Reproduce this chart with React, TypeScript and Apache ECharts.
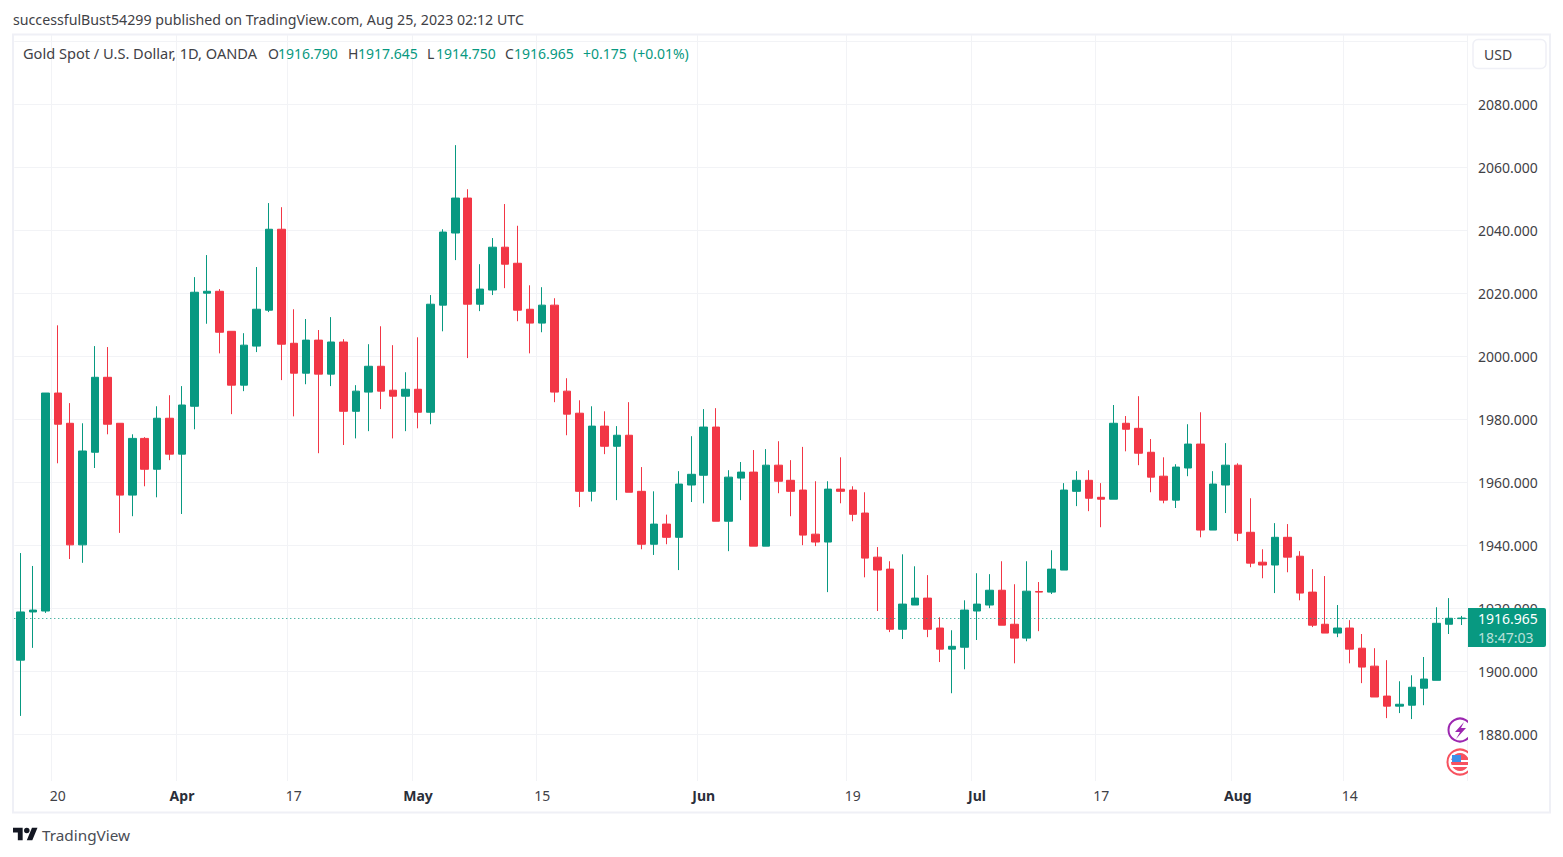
import React, { useEffect, useRef } from "react";
import * as echarts from "echarts";

const categories = [
  "Mar 15","Mar 16","Mar 17","Mar 20","Mar 21","Mar 22","Mar 23","Mar 24","Mar 27","Mar 28","Mar 29","Mar 30","Mar 31",
  "Apr 3","Apr 4","Apr 5","Apr 6","Apr 10","Apr 11","Apr 12","Apr 13","Apr 14","Apr 17","Apr 18","Apr 19","Apr 20","Apr 21","Apr 24","Apr 25","Apr 26","Apr 27","Apr 28",
  "May 1","May 2","May 3","May 4","May 5","May 8","May 9","May 10","May 11","May 12","May 15","May 16","May 17","May 18","May 19","May 22","May 23","May 24","May 25","May 26","May 29","May 30","May 31",
  "Jun 1","Jun 2","Jun 5","Jun 6","Jun 7","Jun 8","Jun 9","Jun 12","Jun 13","Jun 14","Jun 15","Jun 16","Jun 19","Jun 20","Jun 21","Jun 22","Jun 23","Jun 26","Jun 27","Jun 28","Jun 29","Jun 30",
  "Jul 3","Jul 4","Jul 5","Jul 6","Jul 7","Jul 10","Jul 11","Jul 12","Jul 13","Jul 14","Jul 17","Jul 18","Jul 19","Jul 20","Jul 21","Jul 24","Jul 25","Jul 26","Jul 27","Jul 28","Jul 31",
  "Aug 1","Aug 2","Aug 3","Aug 4","Aug 7","Aug 8","Aug 9","Aug 10","Aug 11","Aug 14","Aug 15","Aug 16","Aug 17","Aug 18","Aug 21","Aug 22","Aug 23","Aug 24","Aug 25",
];

const opens = [
  1903.6,1918.9,1919.2,1988.4,1978.8,1940.2,1969.6,1993.4,1978.8,1956,
  1974,1964.2,1980.4,1969,1984.2,2020.1,2020.7,2008,1990.9,2003.3,
  2014.7,2040.4,2004.2,1994.7,2005.2,1994.4,2004.6,1982.6,1988.7,1996.9,
  1989.3,1987.4,1989.6,1982.3,2016.3,2039.2,2050.3,2016.6,2021.1,2034.7,
  2029.6,2015,2010.6,2016.3,1989,1982,1957.2,1977.9,1971.5,1975,
  1957.2,1940.4,1946.8,1942.6,1959.2,1962.3,1977.6,1947.7,1961.4,1963.3,
  1939.8,1965.5,1960.7,1957.6,1943.6,1941.1,1957.9,1957.6,1950.3,1936.3,
  1932.5,1913.4,1921.1,1923.3,1913.8,1907.1,1907.7,1919.2,1921.1,1925.8,
  1915,1910.6,1925.4,1925.2,1932.2,1957.2,1960.7,1955.3,1954.7,1978.8,
  1977.2,1969.6,1962,1954.4,1964.6,1972.2,1944.9,1959.2,1965.5,1944.2,
  1934.7,1933.8,1942.6,1936.6,1925.2,1915,1912.2,1913.8,1907.4,1901.7,
  1892.2,1889,1889.3,1894.7,1897.2,1915,1916.79,
];
const closes = [
  1918.9,1919.5,1988.4,1978.5,1940.2,1970,1993.4,1978.5,1956,1974,
  1964.2,1980.4,1969,1984.6,2020.4,2020.7,2007.7,1990.9,2003.6,2015,
  2040.4,2003.9,1994.7,2005.2,1994.4,2004.6,1982.6,1989,1996.9,1989,
  1987.4,1989.6,1982.3,2016.6,2039.5,2050.3,2016.6,2021.4,2034.7,2029.3,
  2014.7,2010.6,2016.3,1988.7,1981.7,1957.2,1977.9,1971.5,1975,1956.9,
  1940.4,1946.8,1942.6,1959.5,1962.6,1977.6,1947.7,1961.7,1963.3,1939.8,
  1965.5,1960.4,1957.2,1943.3,1941.1,1957.9,1957.2,1949.9,1936,1932.2,
  1913.4,1921.4,1923.3,1913.4,1907.1,1908,1919.5,1921.4,1925.8,1914.7,
  1910.6,1925.5,1925.2,1932.5,1957.6,1960.7,1955,1954.7,1978.8,1976.9,
  1969.3,1961.7,1954.4,1964.9,1972.2,1944.9,1959.5,1965.5,1943.9,1934.4,
  1933.8,1942.6,1936.3,1924.9,1914.7,1912.2,1913.8,1907.1,1901.4,1891.9,
  1889,1889.6,1895,1897.6,1915.3,1916.9,1916.965,
];
const lows = [
  1885.9,1907.5,1918.6,1966.1,1935.7,1934.5,1964.6,1975.3,1944,1949.3,
  1958.8,1955.3,1967.1,1950,1976.9,2010.4,2001,1981.7,1989,2001.4,
  2014.1,1992.5,1981,1991.2,1969.3,1990.6,1971.9,1974,1976.3,1983.3,
  1974,1976.3,1977.2,1978.5,2008,2030.6,1999.5,2014.4,2019.5,2021.7,
  2011.2,2001,2007.7,1985.5,1975,1952.2,1954,1969,1954.4,1956.9,
  1938.8,1937,1940.4,1932.2,1953.8,1953.4,1947.7,1938.2,1954.4,1939.8,
  1939.8,1956.6,1949.3,1940.1,1939.8,1925.2,1953.4,1947.7,1929.9,1919.2,
  1912.5,1910.3,1921.1,1910.9,1903,1893.1,1900.7,1910,1920.1,1914.7,
  1902.6,1909.6,1912.8,1924.6,1932.2,1952.5,1950.9,1945.8,1954.7,1969.9,
  1965.5,1956.9,1953.4,1951.9,1962,1942.6,1944.9,1950.3,1941.4,1933.1,
  1929.6,1924.9,1931.5,1922.6,1914.1,1912.2,1910.9,1902.6,1896.3,1891.9,
  1885.2,1886.8,1884.9,1889.3,1897.2,1911.9,1914.75,
];
const highs = [
  1937.6,1933.5,1988.4,2009.9,1985.2,1978.8,2003.3,2003,1978.8,1975.3,
  1974.4,1984.2,1987.7,1990.6,2025.2,2032.2,2021.4,2008,2007.4,2028.4,
  2048.7,2047.4,2015,2011.9,2008.4,2012.5,2005.5,1990.9,2003.9,2009.6,
  2003.6,1995,2006.1,2019.5,2040.4,2067.1,2053.1,2029.3,2037.6,2048.4,
  2041.5,2022.6,2022,2018.5,1993.1,1986.1,1984.2,1982.6,1977.9,1985.5,
  1964.9,1957.2,1949.8,1963.6,1974.7,1983.3,1983.6,1963.9,1966.5,1970.3,
  1970.6,1973.1,1967.1,1971.3,1960.4,1960.4,1968,1958.8,1956.9,1939.5,
  1935,1937.2,1933.4,1930.6,1917.2,1913.1,1922.6,1931.2,1930.9,1935,
  1927.7,1935,1928.4,1938.5,1959.8,1963.6,1963.9,1959.8,1984.6,1981.1,
  1987.4,1973.8,1968,1965.8,1978.5,1982.3,1963.6,1972.5,1966.1,1955,
  1938.8,1947.1,1946.8,1938.2,1932.5,1930.3,1921.1,1916.3,1911.9,1907.4,
  1903.6,1896.9,1898.8,1904.6,1920.4,1923.3,1917.645,
];

const dateTickLabels: Record<string, string> = {
  "Mar 20": "20", "Apr 3": "Apr", "Apr 17": "17", "May 1": "May", "May 15": "15", "Jun 1": "Jun",
  "Jun 19": "19", "Jul 3": "Jul", "Jul 17": "17", "Aug 1": "Aug", "Aug 14": "14",
};
const monthLabels = ["Apr", "May", "Jun", "Jul", "Aug"];
const priceLabels = [1880, 1900, 1920, 1940, 1960, 1980, 2000, 2020, 2040, 2060, 2080];
const priceGridLines = [...priceLabels, 2100];
// last price 1916.965, nudged a hair so that the dotted line lands on a whole pixel row
const lastPriceLine = 1916.83;

const headerText = "successfulBust54299 published on TradingView.com, Aug 25, 2023 02:12 UTC";
const legendItems: [number, string, boolean][] = [
  [23, "Gold Spot / U.S. Dollar, 1D, OANDA", false],
  [268, "O", false], [278, "1916.790", true],
  [348, "H", false], [358, "1917.645", true],
  [427, "L", false], [436, "1914.750", true],
  [505, "C", false], [514, "1916.965", true],
  [583, "+0.175", true], [633, "(+0.01%)", true],
];

const UP = "#089981";
const DOWN = "#F23645";
const GRID = "#f2f3f6";
const FRAME = "#eff0f6";
const FONT = "'Noto Sans', sans-serif";

echarts.graphic.registerShape(
  "tvLogo",
  echarts.graphic.extendPath(
    "M14 22H7V11H0V4h14v18zM28 22h-8l7.5-18h8L28 22zM24 8a4 4 0 1 1-8 0a4 4 0 0 1 8 0z",
    {}
  )
);

export default function App() {
  const ref = useRef<HTMLDivElement>(null);
  useEffect(() => {
    const chart = echarts.init(ref.current!, undefined, { renderer: "svg" });
    const text = (x: number, y: number, t: string, fill: string, extra: any = {}) => ({
      type: "text", x, y, z: 101,
      style: { text: t, fill, font: `14px ${FONT}`, textVerticalAlign: "middle", ...extra },
    });
    const graphics: any[] = [
      { type: "rect", z: 0, shape: { x: 13, y: 34.5, width: 1537, height: 778 }, style: { fill: "none", stroke: FRAME, lineWidth: 2 } },
      text(13, 19, headerText, "#3f4146", { font: `14.2px ${FONT}` }),
      ...legendItems.map(([x, t, g], i) =>
        text(x, 53, t, g ? UP : "#3f4146", i === 0 ? { font: `14.6px ${FONT}` } : {})
      ),
      { type: "rect", z: 100, shape: { x: 1473, y: 39.5, width: 73, height: 29, r: 5 }, style: { fill: "#fff", stroke: FRAME, lineWidth: 1.5 } },
      text(1484, 54, "USD", "#3f4146"),
      { type: "rect", z: 100, shape: { x: 1468, y: 608, width: 78, height: 39, r: [0, 2, 2, 0] }, style: { fill: UP } },
      text(1478, 618, "1916.965", "#ffffff"),
      text(1478, 637, "18:47:03", "rgba(255,255,255,0.72)"),
      // event badges, clipped by the price scale
      { type: "circle", z: 98, shape: { cx: 1460, cy: 730, r: 11.5 }, style: { fill: "#fff", stroke: "#9c27b0", lineWidth: 2 } },
      { type: "polygon", z: 98, shape: { points: [[1464, 722], [1455, 732], [1460, 732], [1456, 739], [1466, 728], [1461, 728]] }, style: { fill: "#9c27b0" } },
      { type: "circle", z: 98, shape: { cx: 1460, cy: 762, r: 12.5 }, style: { fill: "#fff", stroke: "#f7525f", lineWidth: 2 } },
      { type: "circle", z: 98, shape: { cx: 1460, cy: 762, r: 9 }, style: { fill: "#f7525f" } },
      { type: "rect", z: 98, shape: { x: 1451, y: 760, width: 18, height: 2 }, style: { fill: "#fff" } },
      { type: "rect", z: 98, shape: { x: 1451, y: 765, width: 18, height: 2 }, style: { fill: "#fff" } },
      { type: "rect", z: 98, shape: { x: 1452, y: 755, width: 9, height: 7 }, style: { fill: "#3d8fe8" } },
      { type: "rect", z: 99, shape: { x: 1468, y: 716, width: 8, height: 62 }, style: { fill: "#fff" } },
      { type: "tvLogo", z: 101, x: 13, y: 825, scaleX: 0.69, scaleY: 0.69, style: { fill: "#131722" } },
      text(42, 835, "TradingView", "#4a4d55", { font: `15.3px ${FONT}` }),
    ];

    chart.setOption({
      animation: false,
      textStyle: { fontFamily: FONT },
      grid: { left: 14.3, top: 35, width: 1453.4, height: 746 },
      xAxis: {
        type: "category",
        data: categories,
        boundaryGap: true,
        axisLine: { show: false },
        axisTick: { show: false, alignWithLabel: true, interval: (_: number, v: string) => v in dateTickLabels },
        splitLine: { show: true, interval: (_: number, v: string) => v in dateTickLabels, lineStyle: { color: GRID, width: 1 } },
        axisLabel: {
          interval: (_: number, v: string) => v in dateTickLabels,
          margin: 7,
          fontSize: 14,
          color: "#3f4146",
          formatter: (v: string) => {
            const l = dateTickLabels[v];
            return monthLabels.includes(l) ? `{m|${l}}` : l;
          },
          rich: { m: { fontWeight: "bold", fontSize: 14, color: "#2a2e39", fontFamily: FONT } },
        },
      },
      yAxis: {
        type: "value",
        position: "right",
        min: 1865.238,
        max: 2102.063,
        axisLine: { show: false },
        axisTick: { show: false, customValues: priceGridLines },
        splitLine: { show: true, lineStyle: { color: GRID, width: 1 } },
        axisLabel: {
          customValues: priceLabels,
          margin: 10.3,
          fontSize: 14,
          color: "#3f4146",
          formatter: (v: number) => v.toFixed(3),
        },
      },
      series: [
        {
          type: "candlestick",
          barWidth: 8,
          data: opens.map((o, i) => [o, closes[i], lows[i], highs[i]]),
          itemStyle: { color: UP, color0: DOWN, borderColor: UP, borderColor0: DOWN, borderWidth: 1 },
          markLine: {
            silent: true,
            symbol: "none",
            label: { show: false },
            data: [{ yAxis: lastPriceLine }],
            lineStyle: { color: UP, type: [1, 3], width: 1 },
          },
        },
      ],
      graphic: graphics,
    });
    return () => chart.dispose();
  }, []);
  return (
    <div
      ref={ref}
      style={{ position: "absolute", left: 0, top: 0, width: 1563, height: 857, background: "#fff" }}
    />
  );
}
